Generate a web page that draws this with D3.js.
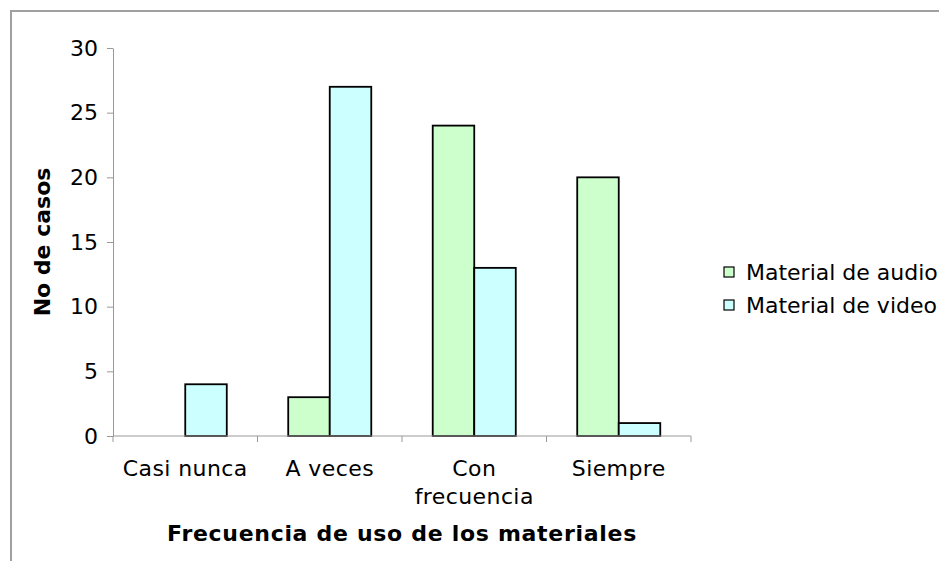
<!DOCTYPE html>
<html>
<head>
<meta charset="utf-8">
<script src="https://cdn.jsdelivr.net/npm/d3@7"></script>
<style>
  body { margin: 0; background: #fff; }
  svg { display: block; font-family: "DejaVu Sans", Verdana, sans-serif; }
</style>
</head>
<body>
<div id="chart"></div>
<script>
const categories = [['Casi nunca'], ['A veces'], ['Con', 'frecuencia'], ['Siempre']];
const seriesNames = ['Material de audio', 'Material de video'];
const audio = [0, 3, 24, 20];
const video = [4, 27, 13, 1];
const yTicks = [0, 5, 10, 15, 20, 25, 30];
const colors = ['#ccffcc', '#ccffff'];

const W = 939, H = 561;
const m = { left: 113, top: 48, right: 248, bottom: 125 };
const FS = 22;

const svg = d3.select('#chart').append('svg')
  .attr('width', W)
  .attr('height', H);

// frame
svg.append('rect')
  .attr('x', 11).attr('y', 11)
  .attr('width', W + 10).attr('height', H + 10)
  .attr('fill', 'none')
  .attr('stroke', '#a0a0a0')
  .attr('stroke-width', 2);

const x0 = d3.scaleBand()
  .domain(d3.range(categories.length))
  .range([m.left, W - m.right])
  .padding(0);

const x1 = d3.scaleBand()
  .domain(seriesNames)
  .range([0, x0.bandwidth()])
  .paddingInner(0)
  .paddingOuter(0.74);

const y = d3.scaleLinear()
  .domain([0, 30])
  .range([H - m.bottom, m.top]);

const data = categories.map((c, i) => ({ i, vals: [audio[i], video[i]] }));

const groups = svg.append('g')
  .selectAll('g')
  .data(data)
  .join('g')
  .attr('transform', d => `translate(${x0(d.i)},0)`);

groups.selectAll('rect')
  .data(d => d.vals.map((v, k) => ({ v, k })).filter(e => e.v > 0))
  .join('rect')
  .attr('x', e => x1(seriesNames[e.k]))
  .attr('y', e => y(e.v))
  .attr('width', x1.bandwidth())
  .attr('height', e => y(0) - y(e.v))
  .attr('fill', e => colors[e.k])
  .attr('stroke', '#000')
  .attr('stroke-width', 1.8);

// y axis
const yAxis = svg.append('g')
  .attr('transform', `translate(${m.left},0)`)
  .call(d3.axisLeft(y).tickValues(yTicks).tickSize(6).tickSizeOuter(0).tickPadding(9));
yAxis.select('.domain').attr('stroke', '#999');
yAxis.selectAll('.tick line').attr('stroke', '#999');
yAxis.selectAll('.tick text').attr('font-size', FS).attr('fill', '#000')
  .attr('font-family', '"DejaVu Sans", Verdana, sans-serif');

// x axis
const xAxis = svg.append('g')
  .attr('transform', `translate(0,${y(0)})`);
xAxis.append('line')
  .attr('x1', m.left).attr('x2', W - m.right)
  .attr('stroke', '#999');
xAxis.selectAll('line.tk')
  .data(d3.range(categories.length + 1))
  .join('line')
  .attr('class', 'tk')
  .attr('x1', i => i < categories.length ? x0(i) : x0(i - 1) + x0.bandwidth())
  .attr('x2', i => i < categories.length ? x0(i) : x0(i - 1) + x0.bandwidth())
  .attr('y1', 0).attr('y2', 6)
  .attr('stroke', '#999');
xAxis.selectAll('text')
  .data(data)
  .join('text')
  .attr('x', d => x0(d.i) + x0.bandwidth() / 2)
  .attr('y', 40)
  .attr('text-anchor', 'middle')
  .attr('font-size', FS)
  .attr('letter-spacing', 0.4)
  .selectAll('tspan')
  .data(d => categories[d.i])
  .join('tspan')
  .attr('x', function () { return d3.select(this.parentNode).attr('x'); })
  .attr('dy', (t, k) => k === 0 ? 0 : 28)
  .text(t => t);

// axis titles
svg.append('text')
  .attr('x', (m.left + W - m.right) / 2)
  .attr('y', 541)
  .attr('text-anchor', 'middle')
  .attr('font-size', FS)
  .attr('font-weight', 'bold')
  .attr('letter-spacing', 0.7)
  .text('Frecuencia de uso de los materiales');

svg.append('text')
  .attr('transform', `translate(50,${(y(0) + y(30)) / 2}) rotate(-90)`)
  .attr('text-anchor', 'middle')
  .attr('font-size', FS)
  .attr('font-weight', 'bold')
  .text('No de casos');

// legend
const legend = svg.append('g')
  .attr('transform', 'translate(724,267)')
  .selectAll('g')
  .data(seriesNames)
  .join('g')
  .attr('transform', (d, k) => `translate(0,${k * 33})`);
legend.append('rect')
  .attr('width', 10).attr('height', 10)
  .attr('fill', (d, k) => colors[k])
  .attr('stroke', '#000')
  .attr('stroke-width', 1.2);
legend.append('text')
  .attr('x', 22).attr('y', 5)
  .attr('dy', '0.35em')
  .attr('font-size', FS)
  .text(d => d);
</script>
</body>
</html>
